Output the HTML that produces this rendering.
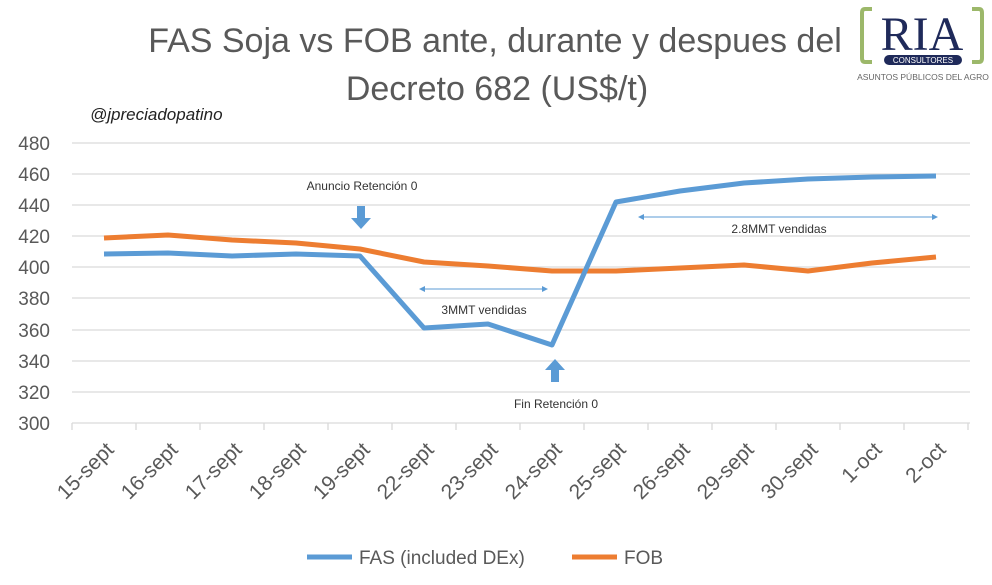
<!DOCTYPE html>
<html><head><meta charset="utf-8"><style>
body{margin:0;background:#fff;}
svg{display:block;font-family:"Liberation Sans","DejaVu Sans",sans-serif;}
</style></head><body>
<svg width="992" height="585" viewBox="0 0 992 585" xmlns="http://www.w3.org/2000/svg">
<rect width="992" height="585" fill="#fff"/>
<text x="495" y="52" font-size="34" fill="#595959" text-anchor="middle">FAS Soja vs FOB ante, durante y despues del</text>
<text x="497" y="100" font-size="34" fill="#595959" text-anchor="middle">Decreto 682 (US$/t)</text>
<text x="90" y="120" font-size="17" font-style="italic" fill="#222">@jpreciadopatino</text>
<g>
<path d="M872 9 H865 Q862 9 862 13 V58 Q862 62 865 62 H872" fill="none" stroke="#9cb86a" stroke-width="4"/>
<path d="M972 9 H979 Q982 9 982 13 V58 Q982 62 979 62 H972" fill="none" stroke="#9cb86a" stroke-width="4"/>
<text x="922" y="50" font-family="Liberation Serif,serif" font-size="48" fill="#1f2a5a" text-anchor="middle">RIA</text>
<rect x="884" y="55" width="78" height="10" rx="5" fill="#1f2a5a"/>
<text x="923" y="63" font-size="8" fill="#fff" text-anchor="middle">CONSULTORES</text>
<text x="923" y="80" font-size="8.5" fill="#666" text-anchor="middle">ASUNTOS PÚBLICOS DEL AGRO</text>
</g>
<g stroke="#d9d9d9" stroke-width="1.3">
<line x1="72" x2="970" y1="143" y2="143"/><line x1="72" x2="970" y1="174" y2="174"/>
<line x1="72" x2="970" y1="205" y2="205"/><line x1="72" x2="970" y1="236" y2="236"/>
<line x1="72" x2="970" y1="267" y2="267"/><line x1="72" x2="970" y1="298" y2="298"/>
<line x1="72" x2="970" y1="330" y2="330"/><line x1="72" x2="970" y1="361" y2="361"/>
<line x1="72" x2="970" y1="392" y2="392"/><line x1="72" x2="970" y1="423" y2="423"/>
</g>
<g stroke="#d9d9d9" stroke-width="1.3">
<line x1="72" x2="72" y1="423" y2="430"/><line x1="136" x2="136" y1="423" y2="430"/>
<line x1="200" x2="200" y1="423" y2="430"/><line x1="264" x2="264" y1="423" y2="430"/>
<line x1="328" x2="328" y1="423" y2="430"/><line x1="392" x2="392" y1="423" y2="430"/>
<line x1="456" x2="456" y1="423" y2="430"/><line x1="520" x2="520" y1="423" y2="430"/>
<line x1="584" x2="584" y1="423" y2="430"/><line x1="648" x2="648" y1="423" y2="430"/>
<line x1="712" x2="712" y1="423" y2="430"/><line x1="776" x2="776" y1="423" y2="430"/>
<line x1="840" x2="840" y1="423" y2="430"/><line x1="904" x2="904" y1="423" y2="430"/>
<line x1="968" x2="968" y1="423" y2="430"/>
</g>
<g font-size="19" fill="#595959" text-anchor="end">
<text x="50" y="150">480</text><text x="50" y="181">460</text><text x="50" y="212">440</text>
<text x="50" y="243">420</text><text x="50" y="274">400</text><text x="50" y="305">380</text>
<text x="50" y="337">360</text><text x="50" y="368">340</text><text x="50" y="399">320</text>
<text x="50" y="430">300</text>
</g>
<g font-size="21" fill="#595959" text-anchor="end">
<text transform="translate(115,451) rotate(-45)">15-sept</text>
<text transform="translate(179,451) rotate(-45)">16-sept</text>
<text transform="translate(243,451) rotate(-45)">17-sept</text>
<text transform="translate(307,451) rotate(-45)">18-sept</text>
<text transform="translate(371,451) rotate(-45)">19-sept</text>
<text transform="translate(435,451) rotate(-45)">22-sept</text>
<text transform="translate(499,451) rotate(-45)">23-sept</text>
<text transform="translate(563,451) rotate(-45)">24-sept</text>
<text transform="translate(627,451) rotate(-45)">25-sept</text>
<text transform="translate(691,451) rotate(-45)">26-sept</text>
<text transform="translate(755,451) rotate(-45)">29-sept</text>
<text transform="translate(819,451) rotate(-45)">30-sept</text>
<text transform="translate(883,451) rotate(-45)">1-oct</text>
<text transform="translate(947,451) rotate(-45)">2-oct</text>
</g>
<polyline fill="none" stroke="#ed7d31" stroke-width="5" stroke-linejoin="round" points="104,238 168,235 232,240 296,243 360,249 424,262 488,266 552,271 616,271 680,268 744,265 808,271 872,263 936,257"/>
<polyline fill="none" stroke="#5b9bd5" stroke-width="5" stroke-linejoin="round" points="104,254 168,253 232,256 296,254 360,256 424,328 488,324 552,345 616,202 680,191 744,183 808,179 872,177 936,176"/>
<text x="362" y="190" font-size="12" fill="#333" text-anchor="middle">Anuncio Retención 0</text>
<path d="M357 206 h8 v12 h6 l-10 11 l-10 -11 h6 z" fill="#5b9bd5"/>
<path d="M551 382 h8 v-12 h6 l-10 -11 l-10 11 h6 z" fill="#5b9bd5"/>
<text x="556" y="408" font-size="12" fill="#333" text-anchor="middle">Fin Retención 0</text>
<g stroke="#5b9bd5" stroke-width="1" fill="#5b9bd5">
<line x1="421" y1="289" x2="546" y2="289"/>
<path d="M419 289 l6 -3 v6 z M548 289 l-6 -3 v6 z" stroke="none"/>
<line x1="640" y1="217" x2="936" y2="217"/>
<path d="M638 217 l6 -3 v6 z M938 217 l-6 -3 v6 z" stroke="none"/>
</g>
<text x="484" y="314" font-size="12" fill="#333" text-anchor="middle">3MMT vendidas</text>
<text x="779" y="233" font-size="12" fill="#333" text-anchor="middle">2.8MMT vendidas</text>
<line x1="307" y1="557" x2="352" y2="557" stroke="#5b9bd5" stroke-width="5"/>
<text x="359" y="564" font-size="19" fill="#595959">FAS (included DEx)</text>
<line x1="572" y1="557" x2="617" y2="557" stroke="#ed7d31" stroke-width="5"/>
<text x="624" y="564" font-size="19" fill="#595959">FOB</text>
</svg>
</body></html>
